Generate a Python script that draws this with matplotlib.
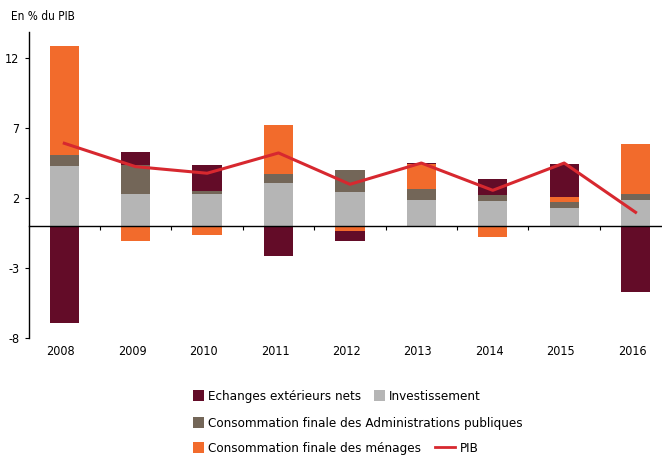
import matplotlib
matplotlib.use("Agg")
import matplotlib.pyplot as plt
import matplotlib.transforms as mtransforms
from matplotlib.patches import Patch
from matplotlib.lines import Line2D
import numpy as np

plt.rcParams['font.family'] = ['DejaVu Sans']
plt.rcParams['font.stretch'] = 'condensed'

years = ["2008", "2009", "2010", "2011", "2012", "2013", "2014", "2015", "2016"]
echanges = [-6.93, 0.90, 1.88, -2.12, -0.72, 0.07, 1.14, 2.40, -4.71]
investissement = [4.33, 2.31, 2.31, 3.11, 2.45, 1.88, 1.81, 1.31, 1.88]
admin = [0.76, 2.07, 0.19, 0.65, 1.57, 0.81, 0.40, 0.43, 0.45]
menages = [7.77, -1.03, -0.64, 3.48, -0.31, 1.76, -0.79, 0.33, 3.57]
pib = [5.93, 4.26, 3.79, 5.24, 3.00, 4.52, 2.57, 4.52, 1.00]

yticks = [12, 7, 2, -3, -8]

c_ech = "#630C28"
c_inv = "#B5B5B5"
c_adm = "#736658"
c_men = "#F26B2C"
c_pib = "#D7282F"

W, H = 662, 455
fig = plt.figure(figsize=(W / 100, H / 100), dpi=100)
ax = fig.add_axes([29.3 / W, 1 - 338.3 / H, (662 - 29.3) / W, (338.3 - 31.7) / H])

x = np.arange(len(years))
width = 0.41

series = [(investissement, c_inv), (admin, c_adm), (menages, c_men), (echanges, c_ech)]
pos_base = np.zeros(len(years))
neg_base = np.zeros(len(years))
for vals, col in series:
    v = np.array(vals)
    bottoms = np.where(v >= 0, pos_base, neg_base)
    ax.bar(x, v, width, bottom=bottoms, color=col, edgecolor='none', zorder=2)
    pos_base = pos_base + np.where(v >= 0, v, 0)
    neg_base = neg_base + np.where(v < 0, v, 0)

ax.plot(x, pib, color=c_pib, lw=2.2, zorder=3)

ax.set_xlim(-0.49, 8.37)
ax.set_ylim(-8, 13.9)
ax.set_yticks(yticks)
ax.set_yticklabels([str(t) for t in yticks], fontsize=9)
ax.tick_params(axis='y', direction='out', length=3, width=0.8, pad=4)

ax.spines['top'].set_visible(False)
ax.spines['right'].set_visible(False)
ax.spines['bottom'].set_position(('data', 0))
ax.spines['bottom'].set_linewidth(1.0)
ax.spines['left'].set_linewidth(1.0)

ax.set_xticks(np.arange(0.5, 8.0, 1.0))
ax.set_xticklabels([])
ax.tick_params(axis='x', direction='out', length=3, width=0.8)

trans = mtransforms.blended_transform_factory(ax.transData, fig.transFigure)
for xi, lab in zip(x, years):
    ax.text(xi - 0.05, 1 - 351.5 / H, lab, transform=trans, ha='center', va='center', fontsize=9)

fig.text(11 / W, 1 - 16.5 / H, "En % du PIB", ha='left', va='center', fontsize=8.5)

fs = 9.6
sq = dict(handlelength=0.85, handleheight=0.85, handletextpad=0.25, frameon=False,
          fontsize=fs, borderpad=0, borderaxespad=0, labelspacing=0, loc='center left')

items = [
    (Patch(facecolor=c_ech), "Echanges extérieurs nets", 193, 396.7, sq),
    (Patch(facecolor=c_inv), "Investissement", 374, 396.7, sq),
    (Patch(facecolor=c_adm), "Consommation finale des Administrations publiques", 193, 423.3, sq),
    (Patch(facecolor=c_men), "Consommation finale des ménages", 193, 448.5, sq),
    (Line2D([0], [0], color=c_pib, lw=2), "PIB", 435, 448.5,
     dict(sq, handlelength=1.5, handletextpad=0.35)),
]
for h, lab, px, py, kw in items:
    fig.legend([h], [lab], bbox_to_anchor=(px / W, 1 - py / H), **kw)

fig.savefig("out.png", dpi=100)
